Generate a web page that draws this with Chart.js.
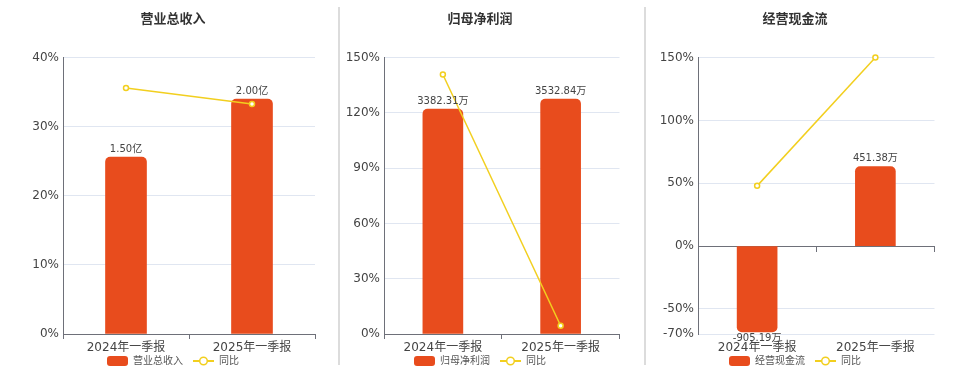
<!DOCTYPE html>
<html>
<head>
<meta charset="utf-8">
<script src="https://cdn.jsdelivr.net/npm/chart.js@4/dist/chart.umd.min.js"></script>
<style>
    html, body { margin: 0; padding: 0; background: #fff; overflow: hidden; }
    #wrap { position: relative; width: 960px; height: 372px; }
    canvas { position: absolute; top: 0; }
    .divider { position: absolute; top: 7px; height: 358px; width: 2px; background: #dcdcdc; }
</style>
</head>
<body>
<div id="wrap">
    <div class="divider" style="left:338px"></div>
    <div class="divider" style="left:644px"></div>
    <canvas id="c1" width="346" height="372" style="left:0px"></canvas>
    <canvas id="c2" width="290" height="372" style="left:335px"></canvas>
    <canvas id="c3" width="290" height="372" style="left:650px"></canvas>
</div>
<script>
// categories shared by all three panels
const categories = ['2024年一季报', '2025年一季报'];

// 营业总收入
const revenueBars = [25.6, 34.0];
const revenueLabels = ['1.50亿', '2.00亿'];
const revenueYoY = [35.6, 33.3];
const revenueTicks = [0, 10, 20, 30, 40];

// 归母净利润
const profitBars = [122.1, 127.5];
const profitLabels = ['3382.31万', '3532.84万'];
const profitYoY = [140.8, 4.45];
const profitTicks = [0, 30, 60, 90, 120, 150];

// 经营现金流
const cashBars = [-68.4, 63.3];
const cashLabels = ['-905.19万', '451.38万'];
const cashYoY = [47.9, 150];
const cashTicks = [-70, -50, 0, 50, 100, 150];

const FONT = '"DejaVu Sans", "Noto Sans CJK SC", sans-serif';
const BAR_COLOR = '#e84c1d';
const LINE_COLOR = '#f2cf1f';
const AXIS_COLOR = '#6e7079';
const GRID_COLOR = '#e0e6f1';

// legend icons
function barIcon() {
    const c = document.createElement('canvas');
    c.width = 21; c.height = 10;
    const ctx = c.getContext('2d');
    ctx.fillStyle = BAR_COLOR;
    ctx.beginPath();
    ctx.roundRect(0, 0, 21, 10, 3);
    ctx.fill();
    return c;
}

function lineIcon() {
    const c = document.createElement('canvas');
    c.width = 21; c.height = 10;
    const ctx = c.getContext('2d');
    ctx.strokeStyle = LINE_COLOR;
    ctx.lineWidth = 2;
    ctx.beginPath();
    ctx.moveTo(0, 5); ctx.lineTo(21, 5);
    ctx.stroke();
    ctx.fillStyle = '#fff';
    ctx.lineWidth = 1.5;
    ctx.beginPath();
    ctx.arc(10.5, 5, 3.8, 0, Math.PI * 2);
    ctx.fill();
    ctx.stroke();
    return c;
}

const BAR_ICON = barIcon();
const LINE_ICON = lineIcon();

// value labels at the end of each bar
const barLabelPlugin = {
    id: 'barLabels',
    afterDatasetsDraw(chart) {
        const ctx = chart.ctx;
        const texts = chart.options.plugins.barLabels.texts;
        chart.data.datasets.forEach((ds, di) => {
            if (ds.type !== 'bar') return;
            const meta = chart.getDatasetMeta(di);
            meta.data.forEach((bar, i) => {
                ctx.save();
                ctx.font = '10px ' + FONT;
                ctx.fillStyle = '#444';
                ctx.textAlign = 'center';
                if (ds.data[i] >= 0) {
                    ctx.textBaseline = 'bottom';
                    ctx.fillText(texts[i], bar.x, bar.y - 3);
                } else {
                    ctx.textBaseline = 'top';
                    ctx.fillText(texts[i], bar.x, bar.y + 1);
                }
                ctx.restore();
            });
        });
    }
};

// pull the legend up so it sits just under the category labels
const legendShiftPlugin = {
    id: 'legendShift',
    afterLayout(chart) {
        if (!chart.legend) return;
        chart.legend.top -= 10;
        chart.legend.bottom -= 10;
    }
};

function makeChart(id, opts) {
    const zeroAxis = opts.ticks[0] < 0;
    const scales = {
        x: {
            offset: true,
            grid: {
                display: true,
                offset: true,
                drawOnChartArea: false,
                drawTicks: true,
                tickLength: 5,
                color: zeroAxis ? 'rgba(0,0,0,0)' : AXIS_COLOR
            },
            border: { display: !zeroAxis, color: AXIS_COLOR, width: 1 },
            ticks: { color: '#444', font: { family: FONT, size: 12 }, padding: 2, maxRotation: 0 },
            afterFit: (s) => { s.height = 22; }
        },
        y: {
            min: opts.ticks[0],
            max: opts.ticks[opts.ticks.length - 1],
            afterBuildTicks: (s) => { s.ticks = opts.ticks.map(v => ({ value: v })); },
            grid: { color: GRID_COLOR, drawTicks: false },
            border: { display: true, color: AXIS_COLOR, width: 1 },
            ticks: {
                color: '#444',
                font: { family: FONT, size: 12 },
                padding: 4,
                callback: (v) => v + '%'
            },
            afterFit: (s) => { s.width = opts.yWidth; }
        }
    };
    if (zeroAxis) {
        // axis line drawn through 0%
        scales.x2 = {
            type: 'category',
            position: { y: 0 },
            offset: true,
            grid: { offset: true, drawOnChartArea: false, tickLength: 5, color: AXIS_COLOR },
            border: { display: true, color: AXIS_COLOR, width: 1 },
            ticks: { display: false }
        };
    }

    return new Chart(document.getElementById(id), {
        data: {
            labels: categories,
            datasets: [
                {
                    type: 'bar',
                    label: opts.name,
                    data: opts.bars,
                    backgroundColor: BAR_COLOR,
                    borderRadius: 5,
                    borderSkipped: 'start',
                    barThickness: opts.barWidth,
                    order: 1
                },
                {
                    type: 'line',
                    label: '同比',
                    data: opts.yoy,
                    borderColor: LINE_COLOR,
                    borderWidth: 1.5,
                    pointRadius: 2.5,
                    pointBorderWidth: 1.5,
                    pointBackgroundColor: '#fff',
                    pointBorderColor: LINE_COLOR,
                    clip: false,
                    order: 0
                }
            ]
        },
        options: {
            responsive: false,
            animation: false,
            layout: { padding: { left: opts.pad, right: opts.pad, top: 0, bottom: -14 } },
            scales: scales,
            plugins: {
                title: {
                    display: true,
                    text: opts.title,
                    color: '#333',
                    font: { family: FONT, size: 13, weight: 'bold' },
                    padding: { top: 12, bottom: 30 }
                },
                legend: {
                    position: 'bottom',
                    labels: {
                        usePointStyle: true,
                        pointStyleWidth: 21,
                        padding: 10,
                        color: '#555',
                        font: { family: FONT, size: 10 },
                        sort: (a, b) => a.datasetIndex - b.datasetIndex,
                        generateLabels: (chart) => chart.data.datasets.map((ds, i) => ({
                            text: ds.label,
                            datasetIndex: i,
                            pointStyle: ds.type === 'bar' ? BAR_ICON : LINE_ICON,
                            fontColor: '#555',
                            lineWidth: 0,
                            hidden: false
                        }))
                    }
                },
                tooltip: { enabled: false },
                barLabels: { texts: opts.labels }
            }
        },
        plugins: [barLabelPlugin, legendShiftPlugin]
    });
}

makeChart('c1', {
    title: '营业总收入', name: '营业总收入',
    bars: revenueBars, labels: revenueLabels, yoy: revenueYoY, ticks: revenueTicks,
    yWidth: 32, pad: 31, barWidth: 41
});
makeChart('c2', {
    title: '归母净利润', name: '归母净利润',
    bars: profitBars, labels: profitLabels, yoy: profitYoY, ticks: profitTicks,
    yWidth: 45, pad: 4, barWidth: 40
});
makeChart('c3', {
    title: '经营现金流', name: '经营现金流',
    bars: cashBars, labels: cashLabels, yoy: cashYoY, ticks: cashTicks,
    yWidth: 43, pad: 5, barWidth: 40
});
</script>
</body>
</html>
